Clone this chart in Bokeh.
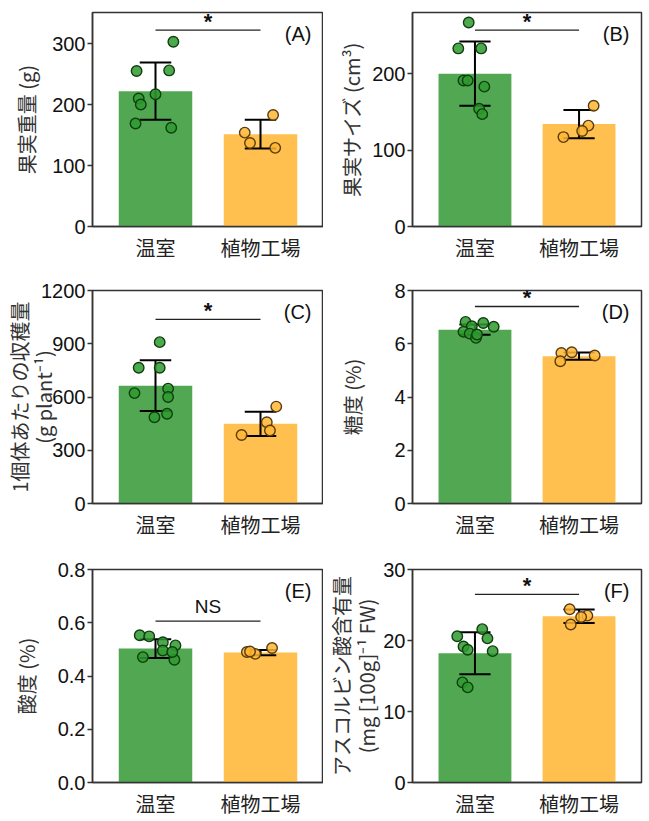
from bokeh.plotting import figure
from bokeh.models import FixedTicker, Label, PrintfTickFormatter, Range1d, LinearAxis
from bokeh.layouts import gridplot
from bokeh.embed import file_html
from bokeh.resources import INLINE

# ---------------- data ----------------
categories = ["温室", "植物工場"]
panel_tags = ["(A)", "(B)", "(C)", "(D)", "(E)", "(F)"]
# y titles: first line is the outer one
y_titles = [["果実重量 (g)"], ["果実サイズ (cm³)"], ["1個体あたりの収穫量", "(g plant⁻¹)"],
            ["糖度 (%)"], ["酸度 (%)"], ["アスコルビン酸含有量", "(mg [100g]⁻¹ FW)"]]
sig_labels = ["*", "*", "*", "*", "NS", "*"]

# (A) fruit weight
a_mean = [222, 151.5]
a_sd = [47, 23.5]
a_gh = [303, 255, 256, 217, 210, 200, 169, 162]
a_gh_jit = [0.17, -0.18, 0.13, 0.0, -0.16, -0.14, -0.19, 0.15]
a_pf = [183, 154, 137, 129]
a_pf_jit = [0.12, -0.15, -0.10, 0.14]
a_sig = 322
a_ticks = [0, 100, 200, 300]
a_ymax = 351

# (B) fruit size
b_mean = [200, 134]
b_sd = [42, 18.5]
b_gh = [267, 233, 233, 191, 191, 183, 154, 147]
b_gh_jit = [-0.06, -0.16, 0.06, -0.11, -0.07, 0.09, 0.04, 0.07]
b_pf = [158, 132, 125, 117]
b_pf_jit = [0.14, 0.09, 0.03, -0.15]
b_sig = 257
b_ticks = [0, 100, 200]
b_ymax = 280

# (C) yield per plant
c_mean = [664, 449]
c_sd = [143.5, 68.5]
c_gh = [909, 765, 765, 622, 647, 600, 506, 486]
c_gh_jit = [0.04, -0.16, 0.04, -0.20, 0.12, 0.12, 0.11, -0.01]
c_pf = [546, 458, 411, 386]
c_pf_jit = [0.15, 0.06, 0.09, -0.18]
c_sig = 1037
c_ticks = [0, 300, 600, 900, 1200]
c_ymax = 1200

# (D) sugar content
d_mean = [6.53, 5.535]
d_sd = [0.19, 0.135]
d_gh = [6.82, 6.66, 6.78, 6.64, 6.45, 6.38, 6.22, 6.35]
d_gh_jit = [-0.09, -0.03, 0.08, 0.18, -0.11, -0.05, 0.01, 0.02]
d_pf = [5.65, 5.68, 5.56, 5.34]
d_pf_jit = [-0.17, -0.07, 0.15, -0.18]
d_sig = 7.4
d_ticks = [0, 2, 4, 6, 8]
d_ymax = 8

# (E) acidity
e_mean = [0.503, 0.488]
e_sd = [0.035, 0.01]
e_gh = [0.553, 0.549, 0.527, 0.515, 0.496, 0.471, 0.461, 0.49]
e_gh_jit = [-0.15, -0.06, 0.07, 0.19, 0.07, -0.12, 0.18, 0.16]
e_pf = [0.49, 0.483, 0.505, 0.492]
e_pf_jit = [-0.13, -0.05, 0.11, -0.10]
e_sig = 0.606
e_ticks = [0, 0.2, 0.4, 0.6, 0.8]
e_ymax = 0.8

# (F) ascorbic acid
f_mean = [18.2, 23.4]
f_sd = [2.95, 0.95]
f_gh = [21.6, 20.6, 20.3, 19.15, 18.7, 18.5, 14.1, 13.4]
f_gh_jit = [0.07, -0.17, 0.12, -0.11, -0.07, 0.17, -0.12, -0.07]
f_pf = [24.4, 23.5, 23.3, 22.25]
f_pf_jit = [-0.09, 0.08, 0.02, -0.08]
f_sig = 26.5
f_ticks = [0, 10, 20, 30]
f_ymax = 30

panels = [
    (a_mean, a_sd, a_gh, a_gh_jit, a_pf, a_pf_jit, a_sig, a_ticks, a_ymax),
    (b_mean, b_sd, b_gh, b_gh_jit, b_pf, b_pf_jit, b_sig, b_ticks, b_ymax),
    (c_mean, c_sd, c_gh, c_gh_jit, c_pf, c_pf_jit, c_sig, c_ticks, c_ymax),
    (d_mean, d_sd, d_gh, d_gh_jit, d_pf, d_pf_jit, d_sig, d_ticks, d_ymax),
    (e_mean, e_sd, e_gh, e_gh_jit, e_pf, e_pf_jit, e_sig, e_ticks, e_ymax),
    (f_mean, f_sd, f_gh, f_gh_jit, f_pf, f_pf_jit, f_sig, f_ticks, f_ymax),
]

# ---------------- style ----------------
BAR_COLORS = ["#52a852", "#ffc04f"]
PT_FILL = ["#2f9a2f", "#ffb632"]
PT_LINE = ["#0f3f0f", "#5a3c10"]
CJK = "Noto Sans CJK JP"
LAT = "Liberation Sans"

# (left border, right border, frame width) per column; (top, frame height, bottom) per row
col_geom = [(92, 0, 231), (86, 6, 229)]
row_geom = [(12, 214, 48), (16, 213, 50), (16, 213, 36)]
# standoffs for y-title lines (outer line first)
ytitle_standoff = [[8], [3], [-8, -19], [24], [14], [-7, 0]]


def style_title(ax, text, standoff):
    ax.axis_label = text
    ax.axis_label_text_font = CJK
    ax.axis_label_text_font_size = "20px"
    ax.axis_label_text_font_style = "normal"
    ax.axis_label_text_color = "#333333"
    ax.axis_label_standoff = standoff


xpos = [i + 1 for i in range(len(categories))]
figs = []
for k, (mean, sd, gh, ghj, pf, pfj, sig, ticks, ymax) in enumerate(panels):
    r, c = divmod(k, 2)
    lb, rb, fw = col_geom[c]
    tb, fh, bb = row_geom[r]
    p = figure(frame_width=fw, frame_height=fh, min_border_left=lb, min_border_right=rb,
               min_border_top=tb, min_border_bottom=bb, output_backend="svg",
               toolbar_location=None, x_range=Range1d(0.4, 2.6), y_range=Range1d(0, ymax))
    p.xgrid.visible = False
    p.ygrid.visible = False
    p.outline_line_color = "#333333"
    p.outline_line_width = 1.5
    p.outline_line_alpha = 1.0
    p.background_fill_color = "white"
    p.border_fill_color = "white"

    # bars
    p.vbar(x=xpos, top=mean, width=0.7, fill_color=BAR_COLORS, line_color=None)
    # error bars (mean ± sd)
    lo = [m - s for m, s in zip(mean, sd)]
    hi = [m + s for m, s in zip(mean, sd)]
    p.segment(x0=xpos, y0=lo, x1=xpos, y1=hi, line_color="black", line_width=2)
    p.segment(x0=[x - 0.15 for x in xpos], y0=hi, x1=[x + 0.15 for x in xpos], y1=hi,
              line_color="black", line_width=2)
    p.segment(x0=[x - 0.15 for x in xpos], y0=lo, x1=[x + 0.15 for x in xpos], y1=lo,
              line_color="black", line_width=2)
    # individual points
    for gi, (vals, jit) in enumerate([(gh, ghj), (pf, pfj)]):
        p.scatter(x=[xpos[gi] + j for j in jit], y=vals, size=10.5, marker="circle",
                  fill_color=PT_FILL[gi], fill_alpha=0.85, line_color=PT_LINE[gi],
                  line_width=1.4)
    # significance bar
    p.segment(x0=[xpos[0]], y0=[sig], x1=[xpos[1]], y1=[sig], line_color="#222222",
              line_width=1.3)
    is_star = sig_labels[k] == "*"
    p.add_layout(Label(x=(xpos[0] + xpos[1]) / 2, y=sig, text=sig_labels[k],
                       text_align="center", text_baseline="bottom",
                       y_offset=-4 if is_star else 4,
                       text_font=LAT, text_font_size="22px" if is_star else "19px",
                       text_font_style="bold" if is_star else "normal",
                       text_color="#111111"))
    # panel tag
    p.add_layout(Label(x=2.6, y=ymax, x_offset=-12, y_offset=-21, text=panel_tags[k],
                       text_align="right", text_baseline="middle", text_font=LAT,
                       text_font_size="20px", text_color="#111111"))

    # x axis
    xa = p.xaxis[0]
    xa.ticker = FixedTicker(ticks=xpos)
    xa.major_label_overrides = {x: lab for x, lab in zip(xpos, categories)}
    xa.major_label_text_font = CJK
    xa.major_label_text_font_size = "20px"
    xa.major_label_text_color = "#222222"
    xa.major_label_standoff = 6
    xa.major_tick_out = 0
    xa.major_tick_in = 0
    xa.minor_tick_out = 0
    xa.minor_tick_in = 0
    xa.axis_line_color = "#333333"
    xa.axis_line_width = 1.5

    # main y axis
    ya = p.yaxis[0]
    ya.ticker = FixedTicker(ticks=ticks)
    ya.formatter = PrintfTickFormatter(format="%.1f" if ymax < 1 else "%d")
    ya.major_label_text_font = LAT
    ya.major_label_text_font_size = "20px"
    ya.major_label_text_color = "#111111"
    ya.major_label_standoff = 2
    ya.major_tick_out = 5
    ya.major_tick_in = 0
    ya.minor_tick_out = 0
    ya.minor_tick_in = 0
    ya.major_tick_line_color = "#333333"
    ya.major_tick_line_width = 1.5
    ya.axis_line_color = "#333333"
    ya.axis_line_width = 1.5

    lines = y_titles[k]
    if len(lines) == 1:
        style_title(ya, lines[0], ytitle_standoff[k][0])
    else:
        # one label-only axis per line, inner line first
        for line, so in reversed(list(zip(lines, ytitle_standoff[k]))):
            ax = LinearAxis(ticker=FixedTicker(ticks=[]), axis_line_color=None,
                            major_tick_line_color=None, minor_tick_line_color=None,
                            major_tick_out=0, major_tick_in=0, minor_tick_out=0,
                            minor_tick_in=0, major_label_standoff=0)
            style_title(ax, line, so)
            p.add_layout(ax, "left")
    figs.append(p)

grid = gridplot([[figs[0], figs[1]], [figs[2], figs[3]], [figs[4], figs[5]]],
                toolbar_location=None)

open("out.html", "w").write(file_html(grid, INLINE))
